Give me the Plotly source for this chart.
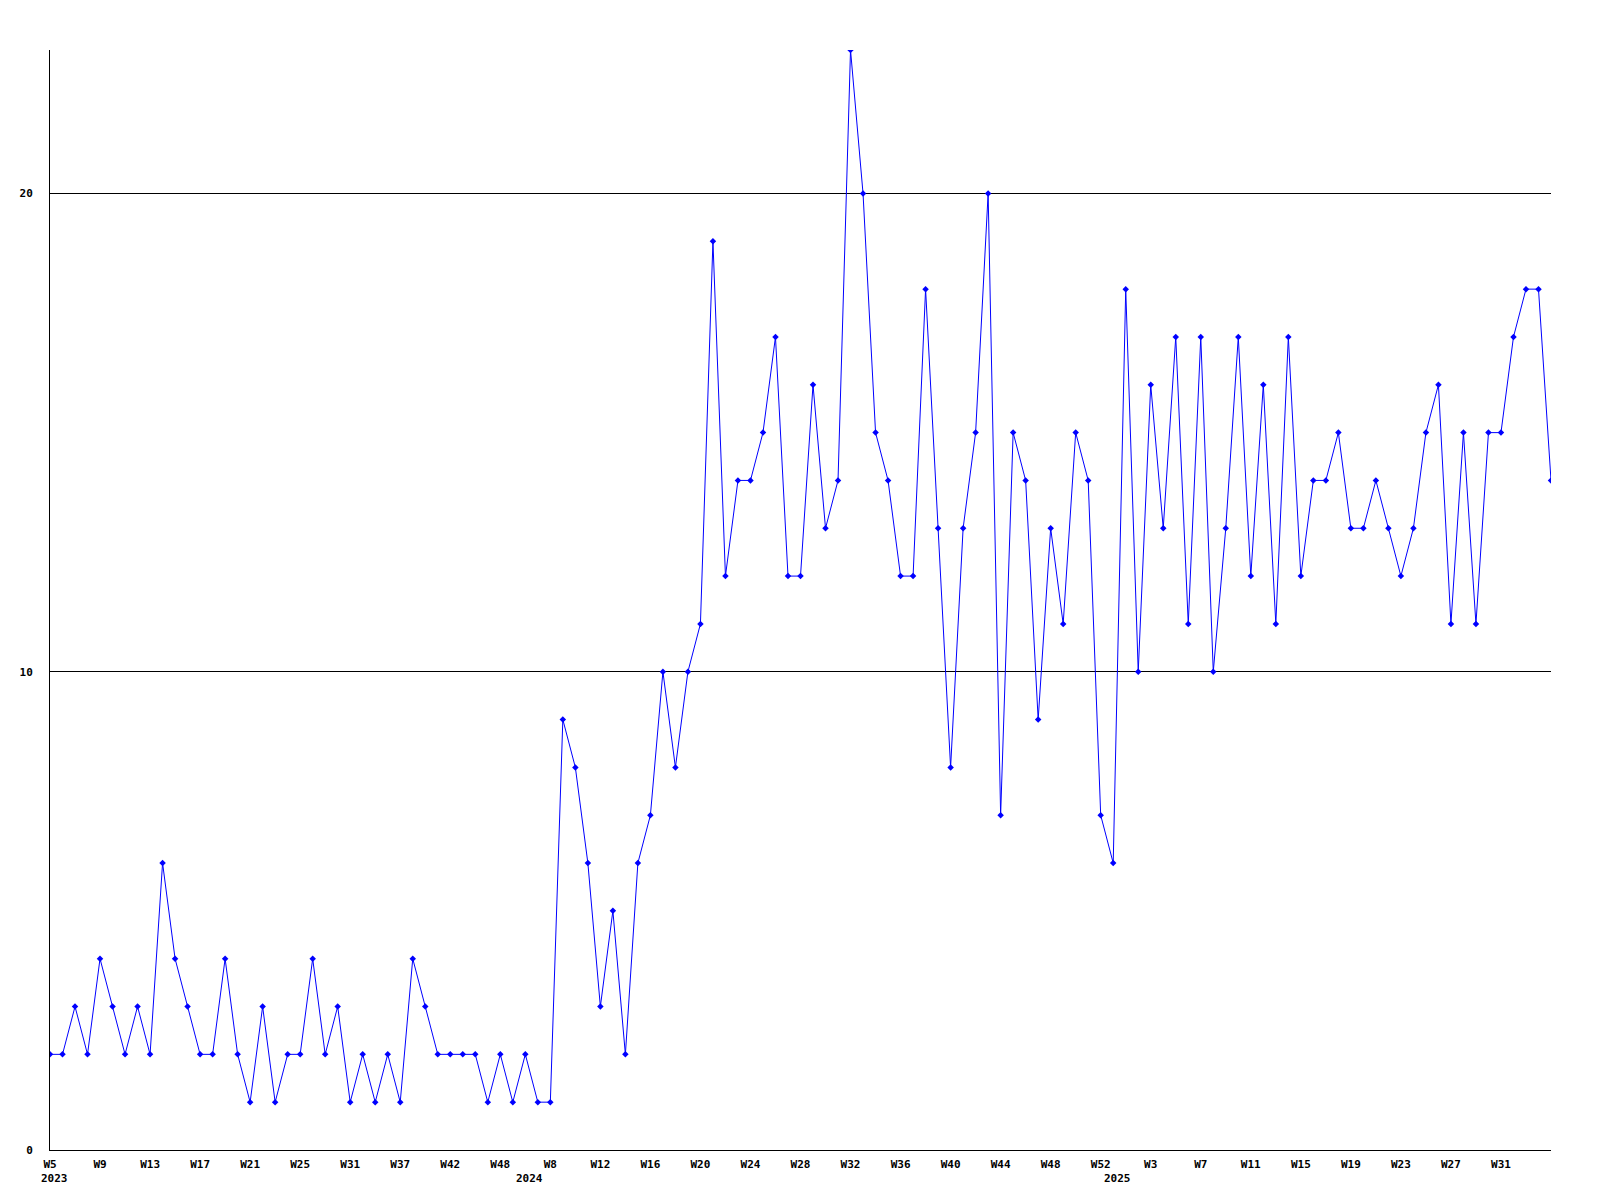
import plotly.graph_objects as go

values = [2, 2, 3, 2, 4, 3, 2, 3, 2, 6,
          4, 3, 2, 2, 4, 2, 1, 3, 1, 2,
          2, 4, 2, 3, 1, 2, 1, 2, 1, 4,
          3, 2, 2, 2, 2, 1, 2, 1, 2, 1,
          1, 9, 8, 6, 3, 5, 2, 6, 7, 10,
          8, 10, 11, 19, 12, 14, 14, 15, 17, 12,
          12, 16, 13, 14, 23, 20, 15, 14, 12, 12,
          18, 13, 8, 13, 15, 20, 7, 15, 14, 9,
          13, 11, 15, 14, 7, 6, 18, 10, 16, 13,
          17, 11, 17, 10, 13, 17, 12, 16, 11, 17,
          12, 14, 14, 15, 13, 13, 14, 13, 12, 13,
          15, 16, 11, 15, 11, 15, 15, 17, 18, 18,
          14]

tick_labels = ["W5", "W9", "W13", "W17", "W21", "W25", "W31", "W37", "W42", "W48",
               "W8", "W12", "W16", "W20", "W24", "W28", "W32", "W36", "W40", "W44",
               "W48", "W52", "W3", "W7", "W11", "W15", "W19", "W23", "W27", "W31"]
tick_step = 4

year_labels = ["2023", "2024", "2025"]
year_positions = [0, 38, 85]

x_idx = list(range(len(values)))
tick_vals = [i * tick_step for i in range(len(tick_labels))]

font_family = "DejaVu Sans Mono"

fig = go.Figure()
fig.add_trace(go.Scatter(
    x=x_idx, y=values, mode="lines+markers",
    line=dict(color="#0000FF", width=1),
    marker=dict(symbol="diamond", size=5, color="#0000FF"),
    showlegend=False,
))

for yl, xp in zip(year_labels, year_positions):
    fig.add_annotation(x=xp, y=0, xref="x", yref="y", text=yl, showarrow=False,
                       xanchor="left", yanchor="top", xshift=-11, yshift=-20,
                       font=dict(family=font_family, size=11, color="black", weight="bold"))

fig.update_layout(
    width=1584, height=1184, autosize=False,
    margin=dict(l=42, r=41, t=42, b=42),
    plot_bgcolor="white", paper_bgcolor="white",
    xaxis=dict(range=[0, len(values) - 1], tickmode="array", tickvals=tick_vals,
               ticktext=tick_labels, showgrid=False, zeroline=False,
               showline=True, linecolor="black", linewidth=1, ticks="",
               ticklabelstandoff=4,
               tickfont=dict(family=font_family, size=11, color="black", weight="bold")),
    yaxis=dict(range=[0, 23], tickmode="array", tickvals=[0, 10, 20],
               ticktext=["0", "10", "20"], showgrid=True, gridcolor="black",
               gridwidth=1, zeroline=False, showline=True, linecolor="black",
               linewidth=1, ticks="", ticklabelstandoff=14,
               tickfont=dict(family=font_family, size=11, color="black", weight="bold")),
)

fig.write_html("out.html")
